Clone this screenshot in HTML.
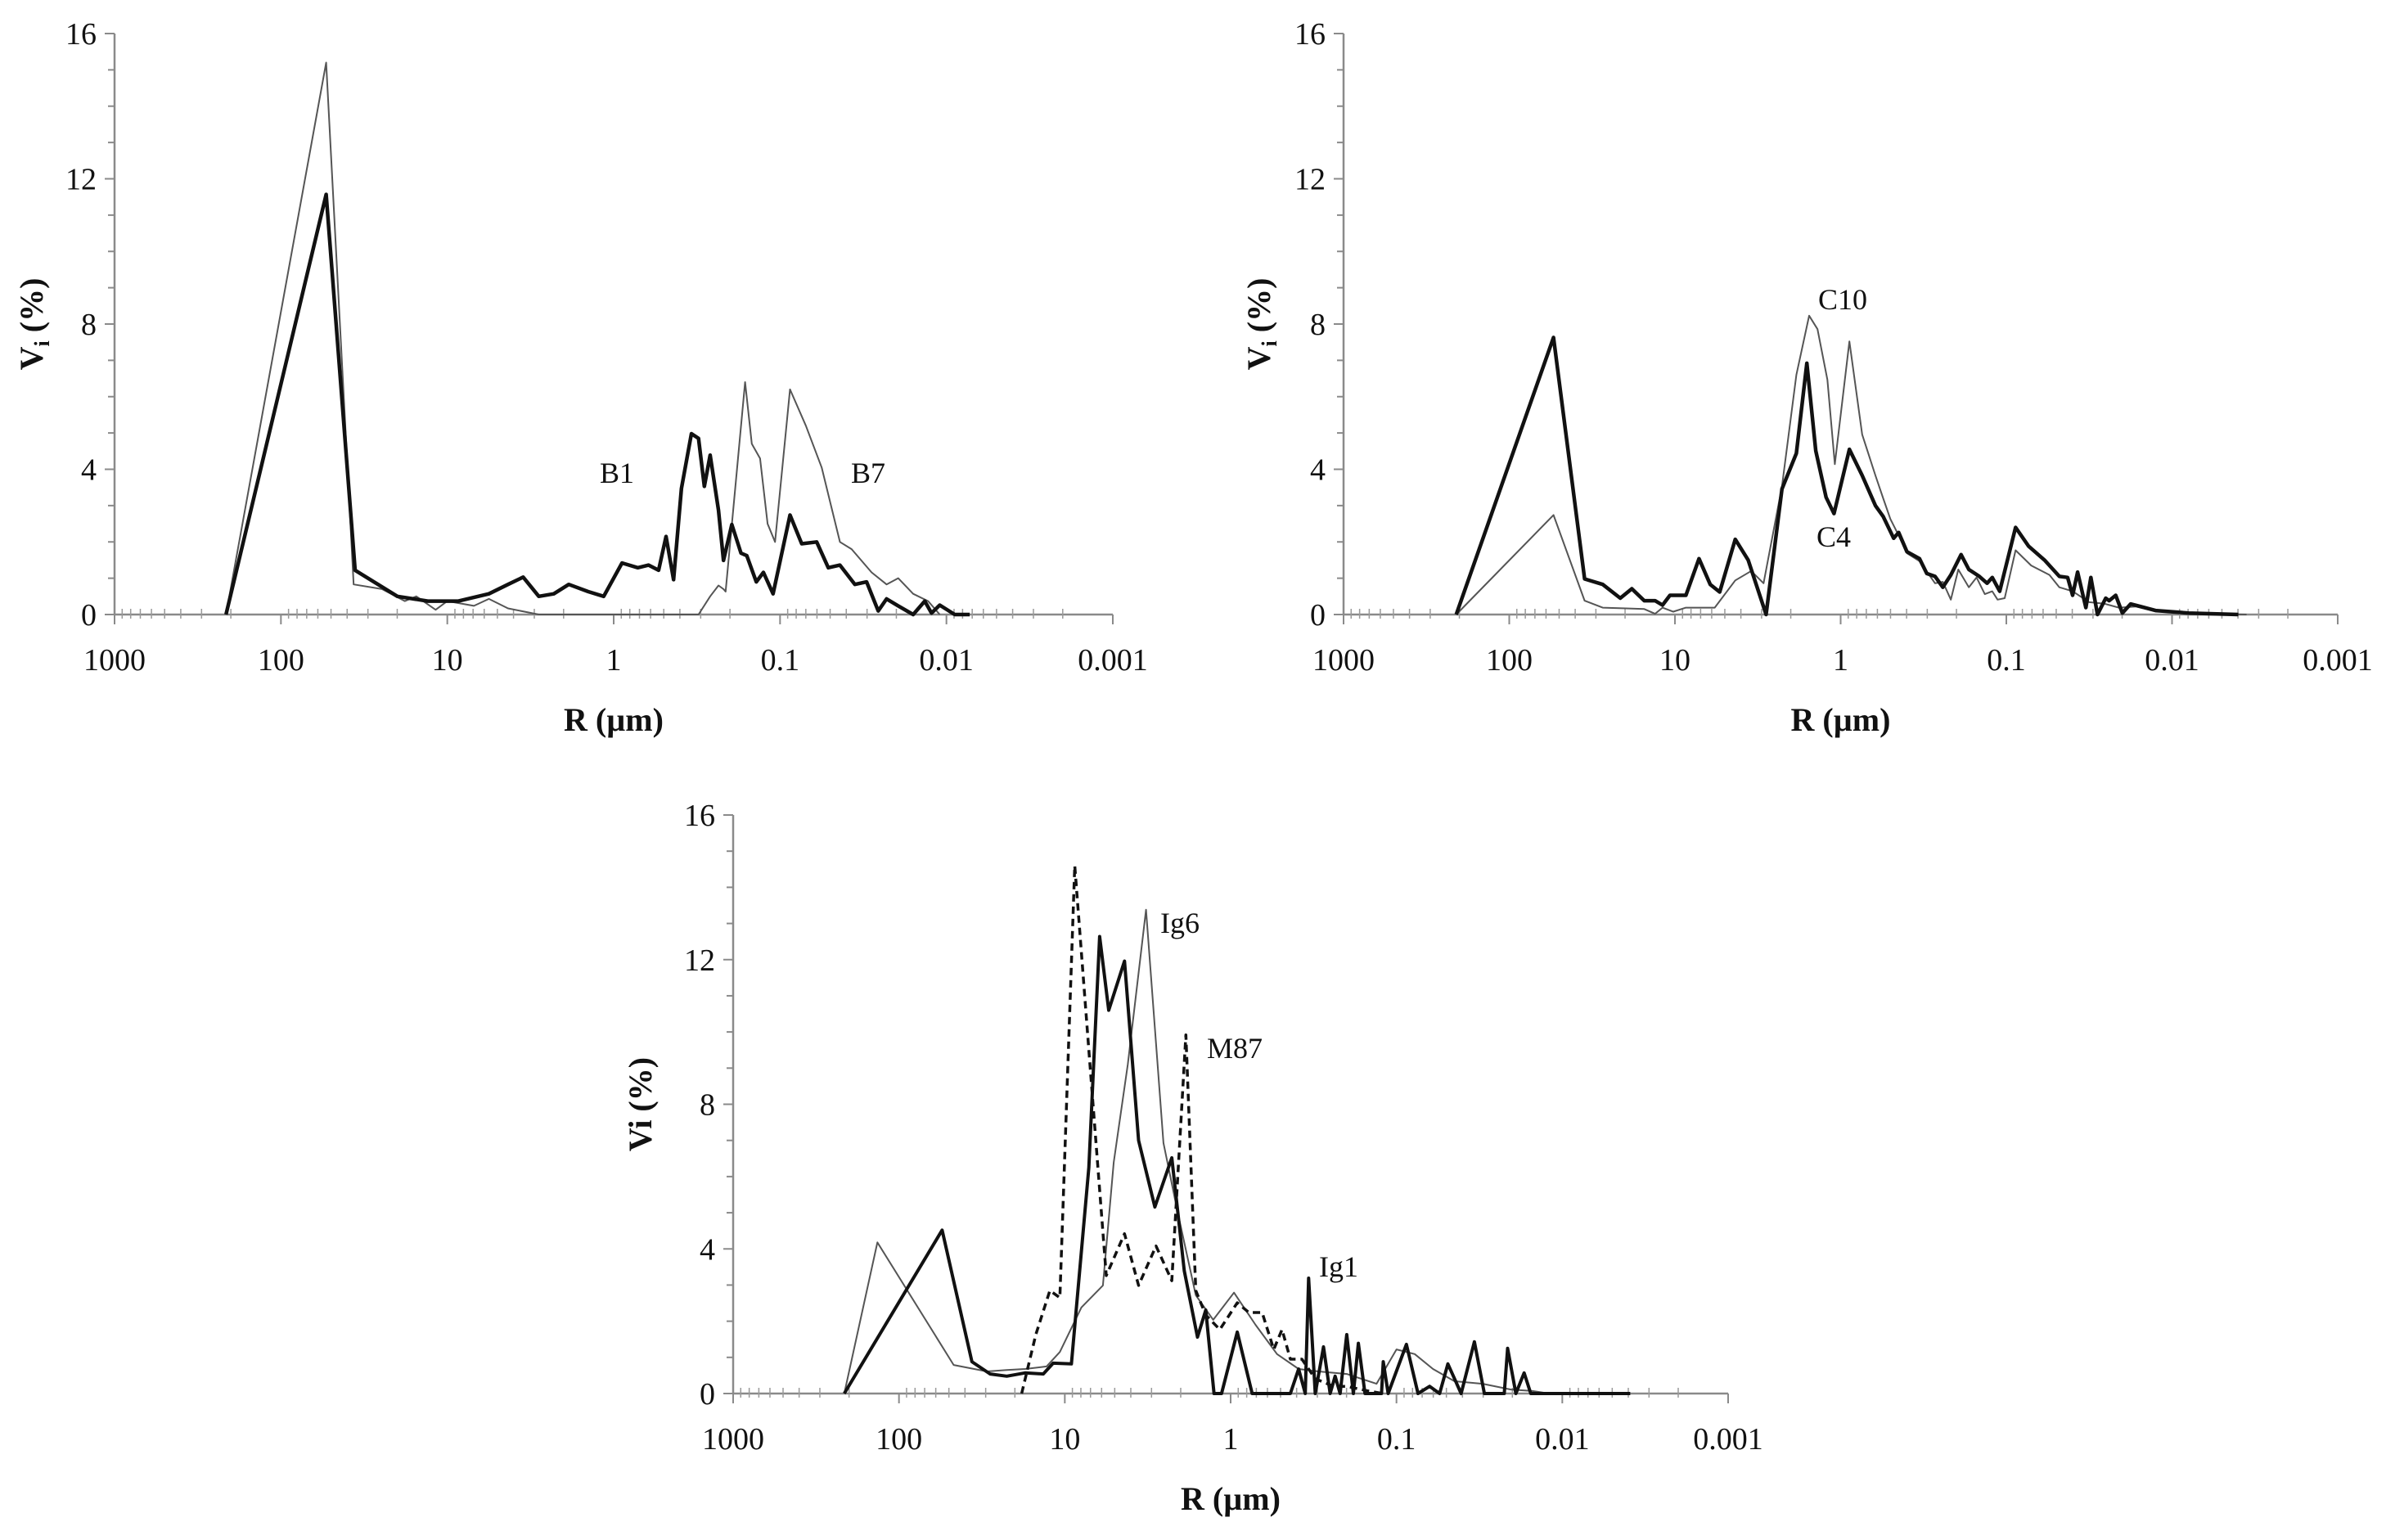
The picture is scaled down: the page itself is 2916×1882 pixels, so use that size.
<!DOCTYPE html>
<html><head><meta charset="utf-8"><style>
html,body{margin:0;padding:0;background:#fff;}
svg{display:block;font-family:"Liberation Serif",serif;}
</style></head><body>
<svg id="fig" width="2916" height="1882" viewBox="0 0 2916 1882"></svg>
<script>
// ---- Data (x = log10 R in µm, y = Vi %) ----
const b7LogR=[2.33,1.728,1.563,1.393,1.255,1.186,1.07,1.0,0.84,0.75,0.635,0.45,-0.51,-0.58,-0.63,-0.66,-0.673,-0.79,-0.83,-0.88,-0.925,-0.97,-1.06,-1.155,-1.25,-1.36,-1.43,-1.55,-1.64,-1.71,-1.8,-1.89,-1.96];
const b7V=[0,15.2,0.83,0.7,0.37,0.5,0.13,0.37,0.24,0.43,0.17,0,0,0.5,0.8,0.7,0.63,6.4,4.7,4.3,2.5,2.0,6.2,5.2,4.05,2.0,1.8,1.16,0.83,1.0,0.57,0.37,0];
const b1LogR=[2.33,1.728,1.554,1.30,1.117,0.934,0.75,0.635,0.544,0.45,0.36,0.27,0.153,0.06,-0.05,-0.145,-0.21,-0.27,-0.315,-0.36,-0.407,-0.467,-0.51,-0.545,-0.58,-0.63,-0.66,-0.71,-0.765,-0.80,-0.857,-0.90,-0.958,-1.06,-1.13,-1.22,-1.29,-1.36,-1.45,-1.52,-1.59,-1.64,-1.71,-1.80,-1.87,-1.91,-1.96,-2.05,-2.14];
const b1V=[0,11.57,1.22,0.5,0.37,0.37,0.57,0.83,1.03,0.5,0.57,0.83,0.63,0.5,1.42,1.29,1.36,1.22,2.15,0.96,3.47,4.98,4.85,3.53,4.39,2.87,1.49,2.48,1.69,1.62,0.9,1.16,0.57,2.74,1.95,2.0,1.29,1.36,0.83,0.9,0.1,0.43,0.24,0,0.37,0.04,0.26,0,0];
const c4LogR=[2.32,1.733,1.545,1.436,1.33,1.26,1.185,1.12,1.075,1.03,0.934,0.855,0.787,0.73,0.636,0.558,0.45,0.354,0.267,0.204,0.15,0.088,0.04,-0.053,-0.13,-0.21,-0.257,-0.32,-0.35,-0.40,-0.476,-0.52,-0.57,-0.617,-0.665,-0.727,-0.774,-0.837,-0.884,-0.915,-0.96,-1.056,-1.135,-1.23,-1.32,-1.37,-1.40,-1.43,-1.48,-1.51,-1.55,-1.60,-1.62,-1.66,-1.70,-1.75,-1.81,-1.9,-2.1,-2.4];
const c4V=[0,7.63,0.98,0.83,0.45,0.71,0.38,0.38,0.26,0.53,0.53,1.54,0.83,0.62,2.07,1.5,0,3.46,4.44,6.92,4.51,3.23,2.78,4.55,3.83,3.0,2.7,2.1,2.26,1.73,1.54,1.13,1.05,0.75,1.09,1.65,1.24,1.05,0.86,1.02,0.64,2.4,1.88,1.5,1.05,1.02,0.53,1.17,0.19,1.02,0,0.45,0.38,0.53,0.04,0.29,0.22,0.11,0.04,0];
const c10LogR=[2.32,1.733,1.545,1.436,1.295,1.185,1.12,1.075,1.01,0.934,0.76,0.636,0.54,0.465,0.354,0.267,0.19,0.14,0.08,0.035,-0.053,-0.13,-0.21,-0.257,-0.30,-0.35,-0.40,-0.476,-0.57,-0.617,-0.665,-0.71,-0.774,-0.82,-0.87,-0.915,-0.947,-0.99,-1.056,-1.15,-1.26,-1.32,-1.40,-1.50,-1.59,-1.68,-1.78,-1.9,-2.1,-2.45];
const c10V=[0,2.74,0.38,0.19,0.17,0.15,0.02,0.19,0.08,0.19,0.19,0.94,1.2,0.86,3.53,6.6,8.23,7.86,6.47,4.14,7.52,4.96,3.83,3.2,2.63,2.18,1.69,1.47,0.86,0.9,0.41,1.24,0.75,1.02,0.56,0.64,0.41,0.45,1.77,1.35,1.09,0.75,0.64,0.34,0.3,0.19,0.22,0.09,0.03,0];
const ig1LogR=[2.33,1.74,1.56,1.45,1.35,1.24,1.13,1.07,0.96,0.855,0.79,0.735,0.64,0.555,0.457,0.355,0.28,0.20,0.15,0.10,0.055,-0.04,-0.13,-0.36,-0.41,-0.45,-0.47,-0.51,-0.56,-0.60,-0.63,-0.66,-0.70,-0.74,-0.77,-0.81,-0.91,-0.92,-0.95,-1.06,-1.13,-1.2,-1.26,-1.31,-1.39,-1.47,-1.53,-1.65,-1.67,-1.72,-1.77,-1.81,-2.41];
const ig1V=[0,4.52,0.88,0.54,0.48,0.57,0.54,0.84,0.82,6.25,12.64,10.6,11.96,7.0,5.16,6.52,3.4,1.56,2.31,0,0,1.7,0,0,0.68,0,3.19,0,1.29,0,0.48,0,1.63,0,1.39,0,0,0.88,0,1.36,0,0.2,0,0.82,0,1.43,0,0,1.25,0,0.57,0,0];
const ig6LogR=[2.33,2.13,1.67,1.47,1.35,1.24,1.11,1.03,0.90,0.77,0.705,0.62,0.51,0.405,0.32,0.21,0.105,-0.02,-0.15,-0.28,-0.41,-0.53,-0.70,-0.88,-1.0,-1.11,-1.22,-1.35,-1.52,-1.69,-1.82,-1.92];
const ig6V=[0,4.18,0.79,0.61,0.65,0.68,0.75,1.15,2.38,2.99,6.39,9.1,13.38,6.93,5.03,2.72,2.04,2.79,1.9,1.09,0.68,0.61,0.54,0.27,1.22,1.09,0.68,0.34,0.27,0.11,0.07,0];
const m87LogR=[1.26,1.175,1.09,1.03,0.94,0.855,0.75,0.64,0.555,0.45,0.355,0.27,0.21,0.15,0.065,-0.04,-0.11,-0.19,-0.26,-0.31,-0.36,-0.43,-0.51,-0.62,-0.70,-0.83,-0.92];
const m87V=[0,1.63,2.85,2.65,14.6,9.5,3.26,4.42,2.99,4.08,3.12,9.92,2.85,2.17,1.77,2.51,2.24,2.24,1.22,1.77,0.95,0.95,0.41,0.2,0.2,0.07,0];
const xTickLabels=["1000","100","10","1","0.1","0.01","0.001"];
const yTickLabels=["0","4","8","12","16"];

const NS="http://www.w3.org/2000/svg";
const svg=document.getElementById('fig');
function el(tag,attrs,parent){const e=document.createElementNS(NS,tag);for(const k in attrs)e.setAttribute(k,attrs[k]);(parent||svg).appendChild(e);return e;}

function chart(cfg){
  const g=el('g',{});
  
  
  const X=lr=>cfg.x0+(3-lr)*(cfg.x1-cfg.x0)/6;
  const Y=v=>cfg.y0-v*(cfg.y0-cfg.y1)/16;
  // axes
  const ax=el('line',{x1:cfg.x0,y1:cfg.y0,x2:cfg.x1,y2:cfg.y0,stroke:'#8a8a8a','stroke-width':2.5},g);
  
  const ay=el('line',{x1:cfg.x0,y1:cfg.y0,x2:cfg.x0,y2:cfg.y1,stroke:'#8a8a8a','stroke-width':2.5},g);
  
  for(let v=0;v<=16;v++){
    const major=v%4===0;
    el('line',{x1:cfg.x0-(major?12:8),y1:Y(v),x2:cfg.x0,y2:Y(v),stroke:'#8a8a8a','stroke-width':2},g);
  }
  yTickLabels.forEach((t,i)=>{
    const tx=el('text',{x:cfg.x0-22,y:Y(+t)+13,'font-size':38,'text-anchor':'end',fill:'#111'},g);
    tx.textContent=t;
    
  });
  xTickLabels.forEach((t,i)=>{
    const lr=3-i;
    el('line',{x1:X(lr),y1:cfg.y0,x2:X(lr),y2:cfg.y0+12,stroke:'#8a8a8a','stroke-width':2},g);
    const tx=el('text',{x:X(lr),y:cfg.y0+68,'font-size':38,'text-anchor':'middle',fill:'#111'},g);
    tx.textContent=t;
    
    if(i<6){for(let m=2;m<=9;m++){const xm=X(lr-1+Math.log10(m));
      el('line',{x1:xm,y1:cfg.y0-7,x2:xm,y2:cfg.y0+5,stroke:'#9a9a9a','stroke-width':1.5},g);}}
  });
  const xt=el('text',{x:(cfg.x0+cfg.x1)/2,y:cfg.y0+142,'font-size':40,'font-weight':'bold','text-anchor':'middle',fill:'#111'},g);
  xt.textContent='R (µm)';
  
  const yt=el('text',{x:0,y:0,'font-size':40,'font-weight':'bold','text-anchor':'middle',fill:'#111',transform:`translate(${cfg.ytx},${(cfg.y0+cfg.y1)/2}) rotate(-90)`},g);
  if(cfg.sub){yt.innerHTML='V<tspan font-size="26" dy="8">i</tspan><tspan dy="-8"> (%)</tspan>';}else{yt.textContent='Vi (%)';}
  
  cfg.series.forEach(s=>{
    const d=s.x.map((lr,i)=>(i?'L':'M')+X(lr).toFixed(1)+' '+Y(s.y[i]).toFixed(1)).join(' ');
    const p=el('path',{d:d,fill:'none',stroke:s.c,'stroke-width':s.w,'stroke-linejoin':'round'},g);
    if(s.dash)p.setAttribute('stroke-dasharray',s.dash);
    
    
  });
  cfg.labels.forEach(l=>{
    const tx=el('text',{x:l[1],y:l[2],'font-size':36,fill:'#111'},g);
    tx.textContent=l[0];
    
    
  });
}
chart({name:'chart-b',x0:140,x1:1360,y0:751,y1:41,ytx:52,sub:true,
  series:[{name:'line-b7',x:b7LogR,y:b7V,c:'#555',w:2},{name:'line-b1',x:b1LogR,y:b1V,c:'#111',w:4.5}],
  labels:[['B1',733,590],['B7',1040,590]]});
chart({name:'chart-c',x0:1642,x1:2857,y0:751,y1:41,ytx:1552,sub:true,
  series:[{name:'line-c10',x:c10LogR,y:c10V,c:'#555',w:2},{name:'line-c4',x:c4LogR,y:c4V,c:'#111',w:4.5}],
  labels:[['C10',2222,378],['C4',2220,668]]});
chart({name:'chart-ig',x0:896,x1:2112,y0:1703,y1:996,ytx:796,sub:false,
  series:[{name:'line-ig6',x:ig6LogR,y:ig6V,c:'#555',w:2},{name:'line-ig1',x:ig1LogR,y:ig1V,c:'#111',w:4},{name:'line-m87',x:m87LogR,y:m87V,c:'#111',w:3.5,dash:'9 6'}],
  labels:[['Ig6',1418,1140],['M87',1475,1293],['Ig1',1612,1560]]});
</script>
</body></html>
